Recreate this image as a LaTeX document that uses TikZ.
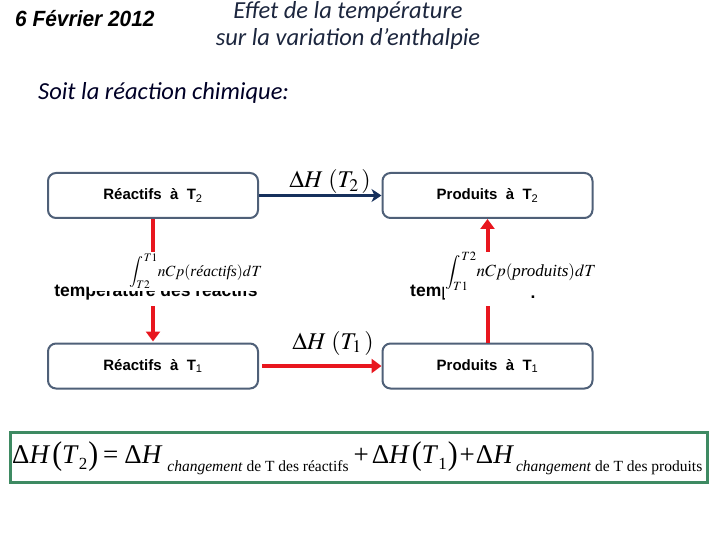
\documentclass[tikz,border=0pt]{standalone}
\usepackage{mathptmx}
\usepackage[no-math]{fontspec}
\setmainfont{Liberation Serif}
\newfontfamily\lsans{Liberation Sans}
\newfontfamily\carl{Carlito}
\usetikzlibrary{arrows.meta}
\definecolor{boxc}{RGB}{79,96,120}
\definecolor{navyc}{RGB}{22,48,92}
\definecolor{redc}{RGB}{232,22,30}
\definecolor{greenc}{RGB}{62,138,98}
\definecolor{titlec}{RGB}{28,38,62}
\newcommand\eqsub[1]{\raisebox{-8.5pt}{\fontsize{15.5}{16}\selectfont #1}}
\newcommand\tsub[1]{\raisebox{-6pt}{\fontsize{17}{17}\selectfont #1}}
\newcommand\dH{Δ\textit{H}}
\newcommand\lpar{\raisebox{-1.5pt}{\scalebox{1.1}[1.22]{(}}}
\newcommand\rpar{\raisebox{-1.5pt}{\scalebox{1.1}[1.22]{)}}}
\begin{document}
\begin{tikzpicture}[x=1pt,y=-1pt,
  stagebox/.style={draw=boxc, line width=2pt, rounded corners=8pt, fill=white,
    minimum width=210pt, minimum height=45pt, inner sep=0pt,
    font=\lsans\bfseries\fontsize{15}{17}\selectfont},
  navyarrow/.style={draw=navyc, line width=3pt, -{Stealth[length=10pt,width=13pt,inset=3pt]}},
  redarrow/.style={draw=redc, line width=4pt, -{Triangle[length=10pt,width=14pt]}},
  dhlabel/.style={font=\fontsize{24}{26}\selectfont, inner sep=0pt},
  intlabel/.style={font=\fontsize{17}{20}\selectfont, inner sep=0pt},
  hidlabel/.style={font=\lsans\bfseries\fontsize{17.5}{19}\selectfont, inner sep=0pt}
]
\useasboundingbox (0,0) rectangle (720,540);

% header
\node[anchor=west, inner sep=0pt, font=\lsans\bfseries\itshape\fontsize{22}{24}\selectfont] (date) at (15,19) {\scalebox{0.95}[1]{6 Février 2012}};
\node[align=center, text=titlec, inner sep=0pt, font=\carl\itshape\fontsize{24.5}{27}\selectfont] (title) at (348,25) {Effet de la température\\sur la variation d’enthalpie};
\node[anchor=west, inner sep=0pt, text=black!85!blue, font=\carl\itshape\fontsize{24.5}{26}\selectfont] (soit) at (38,93) {Soit la réaction chimique:};

% boxes
\node[stagebox] (r2) at (153,195.5) {Réactifs\ \ à\ \ T\textsubscript{\mdseries 2}};
\node[stagebox] (p2) at (487.5,195.5) {Produits\ \ à\ \ T\textsubscript{\mdseries 2}};
\node[stagebox] (r1) at (153,366) {Réactifs\ \ à\ \ T\textsubscript{\mdseries 1}};
\node[stagebox] (p1) at (487.5,366) {Produits\ \ à\ \ T\textsubscript{\mdseries 1}};

% connectors
\draw[navyarrow] (r2.east) -- (p2.west);
\draw[redarrow, shorten <=3pt] (r1.east) -- (p1.west);
\draw[redarrow, shorten >=1pt] (r2.south) -- (r1.north);
\draw[redarrow] (p1.north) -- (p2.south);

% delta H labels
\node[dhlabel] (dh2) at (330,182) {$\Delta H\;(T_2\,)$};
\node[dhlabel] (dh1) at (333,343) {$\Delta H\;(T_1\,)$};

% left label: text partly hidden by integral
\fill[white] (50,283) rectangle (262,306);
\node[hidlabel] (tr) at (156,292) {température des réactifs};
\fill[white] (89,252) rectangle (262,290.5);
\node[intlabel, font=\fontsize{15.5}{18}\selectfont] (il) at (196,271) {$\displaystyle\int_{\!T2}^{T1}\! nCp(\textit{réactifs})dT$};

% right label
\fill[white] (405,283) rectangle (540,306);
\begin{scope}
  \clip (400,280) rectangle (444,306);
  \node[hidlabel, anchor=west] (tp) at (410,292) {température};
\end{scope}
\fill[white] (444,252) rectangle (600,298);
\node[intlabel] (ir) at (521,271) {$\displaystyle\int_{\!T1}^{T2}\! nCp(\textit{produits})dT$};
\node[hidlabel] (dot) at (533,297) {.};

% formula
\node[draw=greenc, line width=3pt, minimum width=697pt, minimum height=50pt, inner sep=0pt] (eqbox) at (358.5,457) {};
\node[anchor=base west, inner sep=0pt, font=\fontsize{27}{30}\selectfont] (eq) at (12,463)
 {\dH\hspace{2pt}\lpar\textit{T}\tsub{2}\hspace{1pt}\rpar\hspace{5pt}=\hspace{6pt}\dH\hspace{5pt}\eqsub{\textit{changement} de T des réactifs}\hspace{5pt}+\hspace{3pt}\dH\hspace{2pt}\lpar\textit{T}\tsub{1}\hspace{1pt}\rpar\hspace{2pt}+\hspace{1pt}\dH\hspace{2pt}\eqsub{\textit{changement} de T des produits}};
\end{tikzpicture}
\end{document}
